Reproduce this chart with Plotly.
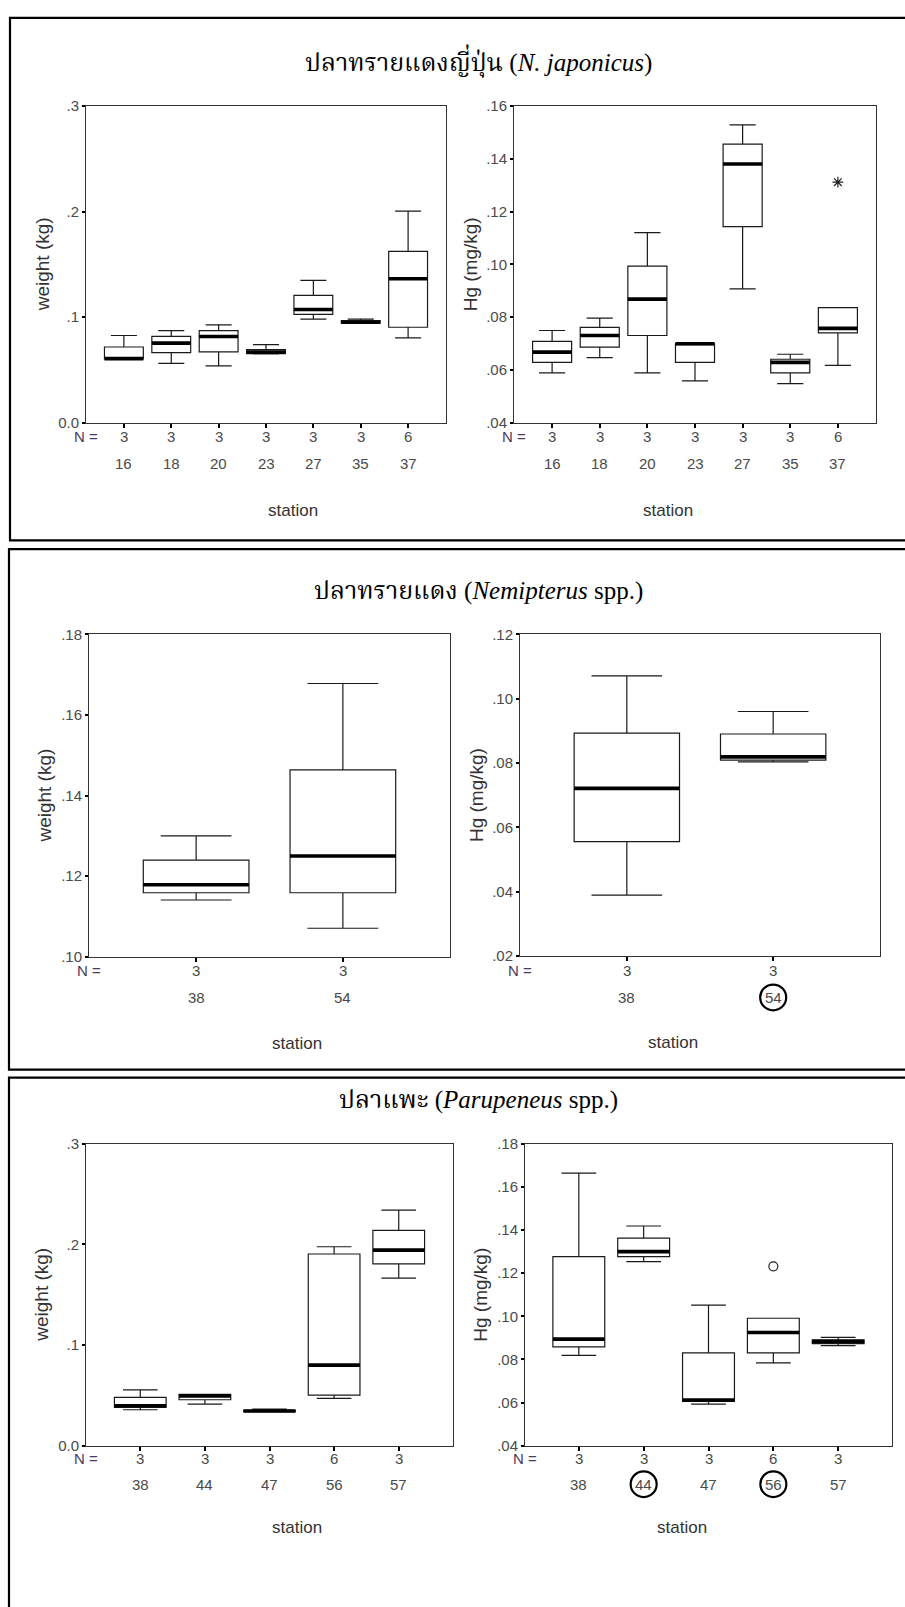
import plotly.graph_objects as go

W, H = 905, 1607

# ---------------- data ----------------
# Nemipterus japonicus
stations_nj = ["16", "18", "20", "23", "27", "35", "37"]
n_nj = [3, 3, 3, 3, 3, 3, 6]
wt_nj_low = [0.0600, 0.0560, 0.0538, 0.0650, 0.0981, 0.0940, 0.0803]
wt_nj_q1 = [0.0603, 0.0663, 0.0669, 0.0653, 0.1025, 0.0942, 0.0903]
wt_nj_med = [0.0606, 0.0753, 0.0816, 0.0669, 0.1072, 0.0950, 0.1363]
wt_nj_q3 = [0.0716, 0.0816, 0.0872, 0.0691, 0.1206, 0.0966, 0.1622]
wt_nj_high = [0.0825, 0.0872, 0.0925, 0.0738, 0.1347, 0.0981, 0.2003]
hg_nj_low = [0.0588, 0.0646, 0.0588, 0.0558, 0.0907, 0.0548, 0.0617]
hg_nj_q1 = [0.0628, 0.0686, 0.0730, 0.0628, 0.1143, 0.0588, 0.0740]
hg_nj_med = [0.0667, 0.0730, 0.0868, 0.0699, 0.1380, 0.0628, 0.0757]
hg_nj_q3 = [0.0708, 0.0761, 0.0993, 0.0699, 0.1455, 0.0640, 0.0836]
hg_nj_high = [0.0749, 0.0796, 0.1120, 0.0699, 0.1528, 0.0659, 0.0836]
hg_nj_extreme_station = ["37"]
hg_nj_extreme_value = [0.1311]

# Nemipterus spp.
stations_ns = ["38", "54"]
n_ns = [3, 3]
wt_ns_low = [0.1141, 0.1071]
wt_ns_q1 = [0.1159, 0.1159]
wt_ns_med = [0.1179, 0.1250]
wt_ns_q3 = [0.1240, 0.1464]
wt_ns_high = [0.1300, 0.1678]
hg_ns_low = [0.0389, 0.0803]
hg_ns_q1 = [0.0555, 0.0809]
hg_ns_med = [0.0721, 0.0819]
hg_ns_q3 = [0.0893, 0.0890]
hg_ns_high = [0.1071, 0.0960]
hg_ns_marked = ["54"]

# Parupeneus spp.
stations_ps = ["38", "44", "47", "56", "57"]
n_ps = [3, 3, 3, 6, 3]
wt_ps_low = [0.0357, 0.0413, 0.0338, 0.0469, 0.1666]
wt_ps_q1 = [0.0380, 0.0456, 0.0338, 0.0502, 0.1807]
wt_ps_med = [0.0397, 0.0495, 0.0344, 0.0800, 0.1944]
wt_ps_q3 = [0.0479, 0.0511, 0.0352, 0.1905, 0.2141]
wt_ps_high = [0.0554, 0.0511, 0.0364, 0.1977, 0.2341]
hg_ps_low = [0.0819, 0.1254, 0.0593, 0.0784, 0.0864]
hg_ps_q1 = [0.0858, 0.1277, 0.0605, 0.0830, 0.0873]
hg_ps_med = [0.0894, 0.1300, 0.0611, 0.0925, 0.0883]
hg_ps_q3 = [0.1277, 0.1363, 0.0830, 0.0991, 0.0891]
hg_ps_high = [0.1664, 0.1419, 0.1052, 0.0991, 0.0902]
hg_ps_outlier_station = ["56"]
hg_ps_outlier_value = [0.1232]
hg_ps_marked = ["44", "56"]

# axis ticks
wt_ticks_a = [0.0, 0.1, 0.2, 0.3]
wt_ticktext_a = ["0.0", ".1", ".2", ".3"]
wt_ticks_b = [0.10, 0.12, 0.14, 0.16, 0.18]
wt_ticktext_b = [".10", ".12", ".14", ".16", ".18"]
hg_ticks_a = [0.04, 0.06, 0.08, 0.10, 0.12, 0.14, 0.16]
hg_ticktext_a = [".04", ".06", ".08", ".10", ".12", ".14", ".16"]
hg_ticks_b = [0.02, 0.04, 0.06, 0.08, 0.10, 0.12]
hg_ticktext_b = [".02", ".04", ".06", ".08", ".10", ".12"]
hg_ticks_c = [0.04, 0.06, 0.08, 0.10, 0.12, 0.14, 0.16, 0.18]
hg_ticktext_c = [".04", ".06", ".08", ".10", ".12", ".14", ".16", ".18"]

titles = [
    "ปลาทรายแดงญี่ปุ่น (<i>N. japonicus</i>)",
    "ปลาทรายแดง (<i>Nemipterus</i> spp.)",
    "ปลาแพะ (<i>Parupeneus</i> spp.)",
]

# ---------------- layout helpers ----------------
SANS = "Liberation Sans, Arial, sans-serif"
SERIF = "Liberation Serif, 'Times New Roman', 'Noto Serif Thai', 'Noto Sans Thai', serif"
TXT = "#4a4a4a"


def fx(px):
    return px / W


def fy(py):
    return 1 - py / H


plots = [
    dict(dom=(86, 446, 98, 418), st=stations_nj, n=n_nj, pad=0.8, bw=0.82,
         box=(wt_nj_low, wt_nj_q1, wt_nj_med, wt_nj_q3, wt_nj_high),
         yr=(0.0, 0.3), tv=wt_ticks_a, tt=wt_ticktext_a, ytitle="weight (kg)",
         offs=(14, 41, 89), marked=[], extra=None),
    dict(dom=(514, 876, 98, 418), st=stations_nj, n=n_nj, pad=0.8, bw=0.82,
         box=(hg_nj_low, hg_nj_q1, hg_nj_med, hg_nj_q3, hg_nj_high),
         yr=(0.04, 0.16), tv=hg_ticks_a, tt=hg_ticktext_a, ytitle="Hg (mg/kg)",
         offs=(14, 41, 89), marked=[],
         extra=(hg_nj_extreme_station, hg_nj_extreme_value, "asterisk-open")),
    dict(dom=(89, 450, 632, 958), st=stations_ns, n=n_ns, pad=0.73, bw=0.72,
         box=(wt_ns_low, wt_ns_q1, wt_ns_med, wt_ns_q3, wt_ns_high),
         yr=(0.10, 0.18), tv=wt_ticks_b, tt=wt_ticktext_b, ytitle="weight (kg)",
         offs=(14, 41, 88), marked=[], extra=None),
    dict(dom=(520, 880, 632, 957), st=stations_ns, n=n_ns, pad=0.73, bw=0.72,
         box=(hg_ns_low, hg_ns_q1, hg_ns_med, hg_ns_q3, hg_ns_high),
         yr=(0.02, 0.12), tv=hg_ticks_b, tt=hg_ticktext_b, ytitle="Hg (mg/kg)",
         offs=(15, 42, 88), marked=hg_ns_marked, extra=None),
    dict(dom=(86, 453, 1147, 1452), st=stations_ps, n=n_ps, pad=0.84, bw=0.8,
         box=(wt_ps_low, wt_ps_q1, wt_ps_med, wt_ps_q3, wt_ps_high),
         yr=(0.0, 0.3), tv=wt_ticks_a, tt=wt_ticktext_a, ytitle="weight (kg)",
         offs=(13, 39, 83), marked=[], extra=None),
    dict(dom=(525, 892, 1147, 1452), st=stations_ps, n=n_ps, pad=0.83, bw=0.8,
         box=(hg_ps_low, hg_ps_q1, hg_ps_med, hg_ps_q3, hg_ps_high),
         yr=(0.04, 0.18), tv=hg_ticks_c, tt=hg_ticktext_c, ytitle="Hg (mg/kg)",
         offs=(13, 39, 83), marked=hg_ps_marked,
         extra=(hg_ps_outlier_station, hg_ps_outlier_value, "circle-open")),
]

fig = go.Figure()
annotations = []
shapes = []
layout_axes = {}

for k, p in enumerate(plots, start=1):
    sfx = "" if k == 1 else str(k)
    xref, yref = "x" + sfx, "y" + sfx
    x0, x1, y0, y1 = p["dom"]
    idx = list(range(len(p["st"])))
    lo, q1, med, q3, hi = p["box"]

    # box with whiskers and caps
    fig.add_trace(go.Box(
        x=idx, lowerfence=lo, q1=q1, median=med, q3=q3, upperfence=hi,
        width=p["bw"], whiskerwidth=0.67, boxpoints=False,
        line=dict(color="#1a1a1a", width=1.2), fillcolor="white",
        xaxis=xref, yaxis=yref, showlegend=False, hoverinfo="skip"))
    # heavy median bar
    fig.add_trace(go.Box(
        x=idx, lowerfence=med, q1=med, median=med, q3=med, upperfence=med,
        width=p["bw"], whiskerwidth=0, boxpoints=False,
        line=dict(color="#000000", width=3.6), fillcolor="rgba(0,0,0,0)",
        xaxis=xref, yaxis=yref, showlegend=False, hoverinfo="skip"))

    if p["extra"] is not None:
        st_list, vals, sym = p["extra"]
        fig.add_trace(go.Scatter(
            x=[p["st"].index(s) for s in st_list], y=vals, mode="markers",
            marker=dict(symbol=sym, size=9, color="#222222",
                        line=dict(width=1.2, color="#222222")),
            xaxis=xref, yaxis=yref, showlegend=False, hoverinfo="skip"))

    xr = (-p["pad"], len(idx) - 1 + p["pad"])
    layout_axes["xaxis" + sfx] = dict(
        domain=[fx(x0), fx(x1)], range=list(xr), anchor=yref,
        tickvals=idx, showticklabels=False, ticks="outside", ticklen=4,
        tickwidth=2, tickcolor="#000", showline=True, linecolor="#333",
        linewidth=1, mirror=True, showgrid=False, zeroline=False,
        fixedrange=True)
    layout_axes["yaxis" + sfx] = dict(
        domain=[fy(y1), fy(y0)], range=list(p["yr"]), anchor=xref,
        tickvals=p["tv"], ticktext=p["tt"], ticks="outside", ticklen=3,
        tickwidth=2, tickcolor="#000", tickfont=dict(family=SANS, size=15, color=TXT),
        showline=True, linecolor="#333", linewidth=1, mirror=True,
        showgrid=False, zeroline=False, fixedrange=True)

    o_n, o_st, o_title = p["offs"]
    annotations.append(dict(text="N =", x=fx(x0), y=fy(y1 + o_n), xref="paper",
                            yref="paper", showarrow=False, xanchor="center",
                            yanchor="middle",
                            font=dict(family=SANS, size=15, color="#4b3b5c")))
    for i, (s, n) in enumerate(zip(p["st"], p["n"])):
        annotations.append(dict(text=str(n), x=i, y=fy(y1 + o_n), xref=xref,
                                yref="paper", showarrow=False, yanchor="middle",
                                font=dict(family=SANS, size=15, color=TXT)))
        annotations.append(dict(text=s, x=i, y=fy(y1 + o_st), xref=xref,
                                yref="paper", showarrow=False, yanchor="middle",
                                font=dict(family=SANS, size=15, color=TXT)))
        if s in p["marked"]:
            ppu = (x1 - x0) / (xr[1] - xr[0])
            r = 13
            shapes.append(dict(type="circle", xref=xref, yref="paper",
                               x0=i - r / ppu, x1=i + r / ppu,
                               y0=fy(y1 + o_st + r), y1=fy(y1 + o_st - r),
                               line=dict(color="#000", width=2.2)))
    annotations.append(dict(text="station", x=fx((x0 + x1) / 2), y=fy(y1 + o_title),
                            xref="paper", yref="paper", showarrow=False,
                            yanchor="middle",
                            font=dict(family=SANS, size=17, color="#333")))
    annotations.append(dict(text=p["ytitle"], x=fx(x0 - 44), y=fy((y0 + y1) / 2),
                            xref="paper", yref="paper", showarrow=False,
                            textangle=-90, xanchor="center", yanchor="middle",
                            font=dict(family=SANS, size=19, color="#333")))

# section frames and headings
frames = [(10, 9, 537), (9, 546, 1072), (9, 1080, 1640)]
title_y = [53, 588, 1103]
for (fx0, fy0, fy1), t, ty in zip(frames, titles, title_y):
    shapes.append(dict(type="rect", xref="paper", yref="paper",
                       x0=fx(fx0), x1=fx(W + 20), y0=fy(fy1), y1=fy(fy0),
                       line=dict(color="#000", width=2.2), layer="above"))
    annotations.append(dict(text=t, x=fx(478), y=fy(ty), xref="paper",
                            yref="paper", showarrow=False, xanchor="center",
                            yanchor="middle",
                            font=dict(family=SERIF, size=25, color="#000")))

fig.update_layout(
    width=W, height=H, margin=dict(l=0, r=0, t=0, b=0),
    paper_bgcolor="white", plot_bgcolor="white",
    boxmode="overlay", showlegend=False,
    annotations=annotations, shapes=shapes, **layout_axes)

fig.write_html("out.html", config={"displayModeBar": False})
